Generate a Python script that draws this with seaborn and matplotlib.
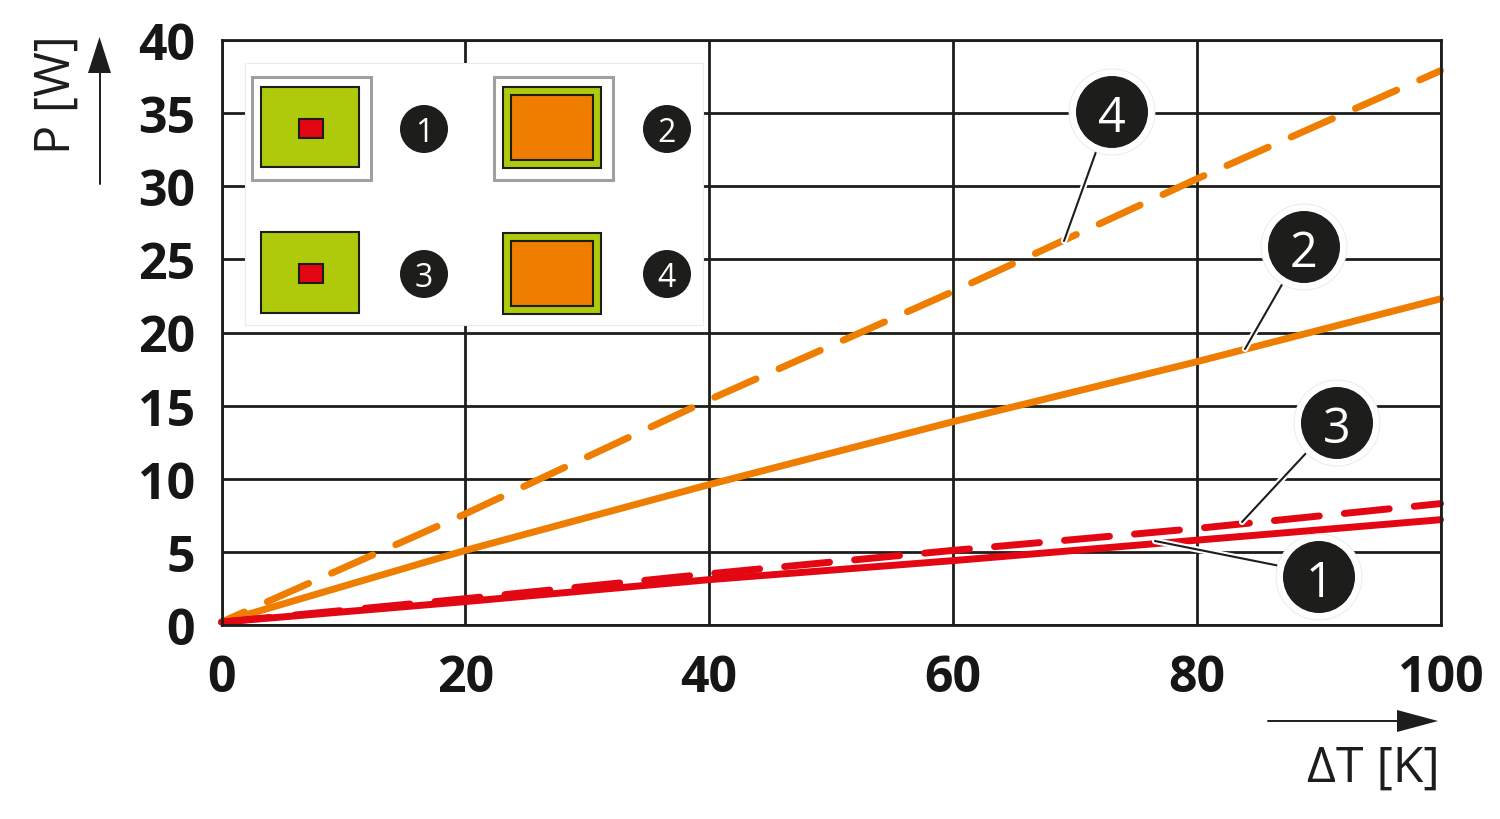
import seaborn as sns
import matplotlib.pyplot as plt
from matplotlib.patches import Rectangle, Circle
from matplotlib.transforms import Affine2D
import matplotlib.patheffects as pe

dt = [0, 20, 40, 60, 80, 100]
p_1 = [0.2, 1.6, 3.1, 4.4, 5.8, 7.2]
p_2 = [0.2, 5.1, 9.6, 13.9, 18.0, 22.3]
p_3 = [0.2, 1.8, 3.5, 5.1, 6.6, 8.3]
p_4 = [0.2, 7.6, 15.4, 22.8, 30.5, 37.9]
x_ticks = [0, 20, 40, 60, 80, 100]
y_ticks = [0, 5, 10, 15, 20, 25, 30, 35, 40]

black = '#1d1d1b'
red = '#e30613'
orange = '#ee7d00'
green = '#afca0b'
gray = '#a0a0a0'

sns.set_theme(style='white')
plt.rcParams['font.family'] = ['Open Sans', 'DejaVu Sans']

W, H = 1500, 820
fig = plt.figure(figsize=(W / 100, H / 100), dpi=100, facecolor='white')
ax = fig.add_axes([221.5 / W, 1 - 626 / H, (1441 - 222) / W, (626 - 41) / H])

# reference pixels, y going down
px = Affine2D().scale(1, -1).translate(0, H)

lw = 5
on, off = 6.5, 3.62
sns.lineplot(x=dt, y=p_4, color=orange, lw=lw, linestyle=(2.9, (on, off)), ax=ax, clip_on=False)
sns.lineplot(x=dt, y=p_2, color=orange, lw=lw, ax=ax, clip_on=False)
sns.lineplot(x=dt, y=p_3, color=red, lw=lw, linestyle=(9.6, (on, off)), ax=ax, clip_on=False)
sns.lineplot(x=dt, y=p_1, color=red, lw=lw, ax=ax, clip_on=False)
for line in ax.lines:
    line.set_dash_capstyle('round')
    line.set_solid_capstyle('round')

ax.set_xlim(0, 100)
ax.set_ylim(0, 40)
ax.set_xticks(x_ticks)
ax.set_yticks(y_ticks)
ax.grid(True, color=black, lw=2)
ax.set_axisbelow(True)
for s in ax.spines.values():
    s.set_color(black)
    s.set_linewidth(2)
ax.tick_params(axis='both', length=0, labelsize=36, colors='#161615')
ax.tick_params(axis='x', pad=20)
ax.tick_params(axis='y', pad=19)
for t in ax.get_xticklabels() + ax.get_yticklabels():
    t.set_fontweight('bold')


def box(x0, y0, x1, y1, fc, ec=black, lw=1.5, z=5):
    fig.add_artist(Rectangle((x0, y0), x1 - x0, y1 - y0, fc=fc, ec=ec, lw=lw,
                             transform=px, zorder=z))


def badge(x, y, label, r, size, halo=0):
    if halo:
        fig.add_artist(Circle((x, y), r + halo, fc='white', ec='#e8e8e8', lw=0.6,
                              transform=px, zorder=7))
    fig.add_artist(Circle((x, y), r, fc=black, ec='none', transform=px, zorder=8))
    fig.text(x, y, label, color='white', fontsize=size, ha='center', va='center_baseline',
             transform=px, zorder=9)


def leader(x0, y0, x1, y1):
    line = plt.Line2D([x0, x1], [y0, y1], color=black, lw=1.5, transform=px, zorder=6,
                      path_effects=[pe.Stroke(linewidth=4.5, foreground='white'), pe.Normal()])
    fig.add_artist(line)


# inset key
box(245, 64, 703, 326, 'white', ec='#ececec', lw=0.8, z=4)
box(252, 78, 371, 181, 'white', ec=gray, lw=2.2)
box(494, 78, 613, 181, 'white', ec=gray, lw=2.2)
for y0, y1, ry0, ry1 in [(88, 168, 120, 139), (233, 314, 265, 284)]:
    box(261, y0, 359, y1, green)
    box(299, ry0, 323, ry1, red)
for y0, y1 in [(88, 169), (234, 315)]:
    box(503, y0, 601, y1, green)
    box(511, y0 + 8, 593, y1 - 8, orange)
badge(424, 130, '1', 24, 23)
badge(667, 130, '2', 24, 23)
badge(424, 275, '3', 24, 23)
badge(667, 275, '4', 24, 23)

# callouts
leader(1097, 150, 1064, 242)
leader(1284, 282, 1245, 350)
leader(1308, 452, 1242, 523)
leader(1285, 568, 1155, 542)
badge(1112, 113, '4', 36, 35, halo=7)
badge(1304, 248, '2', 36, 35, halo=7)
badge(1337, 424, '3', 36, 35, halo=7)
badge(1319, 578, '1', 36, 35, halo=7)

# axis names and arrows
fig.text(57, 95, 'P [W]', fontsize=35, color=black, rotation=90, ha='center', va='center', transform=px)
fig.text(1440, 769, '\u0394T [K]', fontsize=36, color=black, ha='right', va='center', transform=px)
fig.add_artist(plt.Line2D([99.5, 99.5], [185, 70], color=black, lw=1.4, transform=px))
fig.add_artist(plt.Polygon([(99.5, 38), (111, 74), (88, 74)], fc=black, ec='none', transform=px))
fig.add_artist(plt.Line2D([1268, 1400], [722, 722], color=black, lw=1.4, transform=px))
fig.add_artist(plt.Polygon([(1438, 722), (1397, 711), (1397, 733)], fc=black, ec='none', transform=px))

fig.savefig('out.png', dpi=100)
